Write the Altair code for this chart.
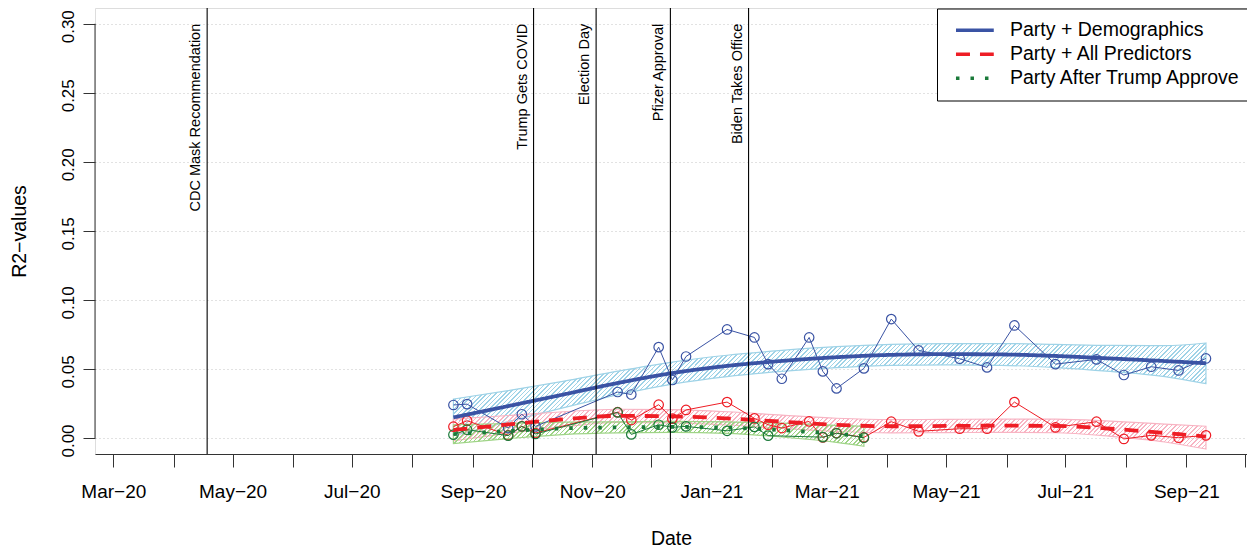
import altair as alt
import pandas as pd

# ---------------- data ----------------
SERIES = ["Party + Demographics", "Party + All Predictors", "Party After Trump Approve"]

POINT_DATES = ["2020-08-22", "2020-08-29", "2020-09-19", "2020-09-26", "2020-10-03",
               "2020-11-14", "2020-11-21", "2020-12-05", "2020-12-12", "2020-12-19",
               "2021-01-09", "2021-01-23", "2021-01-30", "2021-02-06", "2021-02-20",
               "2021-02-27", "2021-03-06", "2021-03-20", "2021-04-03", "2021-04-17",
               "2021-05-08", "2021-05-22", "2021-06-05", "2021-06-26", "2021-07-17",
               "2021-07-31", "2021-08-14", "2021-08-28", "2021-09-11"]

BLUE_R2 = [0.0239, 0.0245, 0.0072, 0.0172, 0.0084,
           0.0333, 0.0315, 0.0658, 0.0420, 0.0590,
           0.0786, 0.0728, 0.0535, 0.0429, 0.0728,
           0.0482, 0.0359, 0.0504, 0.0861, 0.0634,
           0.0574, 0.0511, 0.0815, 0.0535, 0.0569,
           0.0456, 0.0516, 0.0489, 0.0576]

RED_R2 = [0.0082, 0.0125, 0.0020, 0.0085, 0.0036,
          0.0187, 0.0130, 0.0241, 0.0140, 0.0203,
          0.0260, 0.0142, 0.0096, 0.0072, 0.0120,
          0.0004, 0.0036, 0.0004, 0.0118, 0.0048,
          0.0067, 0.0067, 0.0260, 0.0077, 0.0118,
          -0.0007, 0.0019, 0.0002, 0.0019]

GREEN_DATES = ["2020-08-22", "2020-08-29", "2020-09-19", "2020-09-26", "2020-10-03",
               "2020-11-14", "2020-11-21", "2020-12-05", "2020-12-12", "2020-12-19",
               "2021-01-09", "2021-01-23", "2021-01-30", "2021-02-27", "2021-03-06",
               "2021-03-20"]
GREEN_R2 = [0.0024, 0.0060, 0.0017, 0.0084, 0.0029,
            0.0185, 0.0026, 0.0096, 0.0077, 0.0084,
            0.0052, 0.0080, 0.0017, 0.0006, 0.0034,
            0.0002]

# smoothed fits with their confidence bands
FIT_DATES = ["2020-08-22", "2020-09-19", "2020-10-17", "2020-11-14", "2020-12-12",
             "2021-01-09", "2021-02-06", "2021-03-06", "2021-04-03", "2021-05-01",
             "2021-05-29", "2021-06-26", "2021-07-24", "2021-08-21", "2021-09-11"]
BLUE_FIT = [0.0149, 0.0231, 0.0314, 0.0398, 0.0470, 0.0522, 0.0558, 0.0585,
            0.0602, 0.0607, 0.0605, 0.0594, 0.0576, 0.0557, 0.0541]
BLUE_HI = [0.0282, 0.0343, 0.0410, 0.0484, 0.0550, 0.0599, 0.0634, 0.0661,
           0.0678, 0.0684, 0.0684, 0.0678, 0.0670, 0.0669, 0.0688]
BLUE_LO = [0.0016, 0.0119, 0.0218, 0.0312, 0.0390, 0.0445, 0.0482, 0.0509,
           0.0526, 0.0530, 0.0526, 0.0510, 0.0482, 0.0445, 0.0394]

RED_FIT = [0.0058, 0.0098, 0.0135, 0.0160, 0.0157, 0.0142, 0.0118, 0.0095,
           0.0085, 0.0087, 0.0089, 0.0087, 0.0067, 0.0036, 0.0010]
RED_HI = [0.0137, 0.0163, 0.0190, 0.0208, 0.0205, 0.0190, 0.0166, 0.0143,
          0.0133, 0.0135, 0.0137, 0.0136, 0.0122, 0.0101, 0.0085]
RED_LO = [-0.0021, 0.0033, 0.0080, 0.0112, 0.0109, 0.0094, 0.0070, 0.0047,
          0.0037, 0.0039, 0.0041, 0.0038, 0.0012, -0.0029, -0.0080]

GREEN_FIT_DATES = ["2020-08-22", "2020-09-19", "2020-10-17", "2020-11-14", "2020-12-12",
                   "2021-01-09", "2021-02-06", "2021-03-06", "2021-03-20"]
GREEN_FIT = [0.0028, 0.0050, 0.0070, 0.0077, 0.0080, 0.0075, 0.0057, 0.0030, 0.0012]
GREEN_HI = [0.0096, 0.0105, 0.0115, 0.0117, 0.0120, 0.0117, 0.0107, 0.0092, 0.0084]
GREEN_LO = [-0.0040, -0.0005, 0.0025, 0.0037, 0.0040, 0.0033, 0.0007, -0.0032, -0.0060]

EVENTS = ["CDC Mask Recommendation", "Trump Gets COVID", "Election Day",
          "Pfizer Approval", "Biden Takes Office"]
EVENT_DATES = ["2020-04-18", "2020-10-02", "2020-11-03", "2020-12-11", "2021-01-20"]
EVENT_LABEL_Y = [0.30, 0.30, 0.30, 0.30, 0.30]

Y_TICKS = [0.00, 0.05, 0.10, 0.15, 0.20, 0.25, 0.30]
TICK_MONTHS = ["2020-03", "2020-04", "2020-05", "2020-06", "2020-07", "2020-08",
               "2020-09", "2020-10", "2020-11", "2020-12", "2021-01", "2021-02",
               "2021-03", "2021-04", "2021-05", "2021-06", "2021-07", "2021-08",
               "2021-09", "2021-10"]

# ---------------- styling ----------------
LINE_COLORS = ["#3A53A4", "#EE1D25", "#1B7A3A"]
BAND_COLORS = ["#9FD3E7", "#F8B4C3", "#9FD487"]
DASHES = [[1, 0], [14, 10], [3.5, 11]]
FONT = "Liberation Sans"

PLOT_W, PLOT_H = 1152, 446
Y_DOMAIN = [-0.0116, 0.3114]
X_DAYS = 588.375  # days spanned by the x domain below
PX_PER_DAY = PLOT_W / X_DAYS
PX_PER_UNIT = PLOT_H / (Y_DOMAIN[1] - Y_DOMAIN[0])
HATCH_PERIOD = 4.4   # px between hatch lines (measured along x)
HATCH_WIDTH = 1.5

# ---------------- tables ----------------
fits = {
    SERIES[0]: pd.DataFrame({"date": FIT_DATES, "fit": BLUE_FIT, "hi": BLUE_HI, "lo": BLUE_LO}),
    SERIES[1]: pd.DataFrame({"date": FIT_DATES, "fit": RED_FIT, "hi": RED_HI, "lo": RED_LO}),
    SERIES[2]: pd.DataFrame({"date": GREEN_FIT_DATES, "fit": GREEN_FIT, "hi": GREEN_HI, "lo": GREEN_LO}),
}
for s, d in fits.items():
    d["series"] = s
fit_all = pd.concat(list(fits.values()), ignore_index=True)

points = {
    SERIES[0]: pd.DataFrame({"date": POINT_DATES, "r2": BLUE_R2}),
    SERIES[1]: pd.DataFrame({"date": POINT_DATES, "r2": RED_R2}),
    SERIES[2]: pd.DataFrame({"date": GREEN_DATES, "r2": GREEN_R2}),
}
events = pd.DataFrame({"event": EVENTS, "date": EVENT_DATES, "ypos": EVENT_LABEL_Y})
yline = pd.DataFrame({"y0": [Y_TICKS[0]], "y1": [Y_TICKS[-1]]})


def hatch(color, df):
    """Diagonal '/' hatching as a striped linear gradient over the band's bounding box."""
    d = pd.to_datetime(df["date"])
    w = (d.max() - d.min()).days * PX_PER_DAY
    h = (df["hi"].max() - df["lo"].min()) * PX_PER_UNIT
    r = h / w
    s = (1 + r) / (1 + r * r)
    total = w + h
    clear = "rgba(255,255,255,0)"
    stops = []
    k = 0
    while k * HATCH_PERIOD < total:
        o0 = k * HATCH_PERIOD / total
        o1 = min((k * HATCH_PERIOD + HATCH_WIDTH) / total, 1.0)
        stops += [alt.GradientStop(color=clear, offset=o0),
                  alt.GradientStop(color=color, offset=o0),
                  alt.GradientStop(color=color, offset=o1),
                  alt.GradientStop(color=clear, offset=o1)]
        k += 1
    return alt.LinearGradient(gradient="linear", stops=stops, x1=0, y1=0, x2=s, y2=s * r)


def dt(s):
    y, m = s.split("-")[:2]
    return alt.DateTime(year=int(y), month=int(m), date=1, utc=True)


x_scale = alt.Scale(type="utc",
                    domain=[alt.DateTime(year=2020, month=2, date=20, hours=15, utc=True),
                            alt.DateTime(year=2021, month=10, date=2, utc=True)])
x_axis = alt.Axis(values=[dt(m) for m in TICK_MONTHS],
                  labelExpr="utcmonth(datum.value) % 2 == 0 ? utcFormat(datum.value, '%b') + '\u2212' + utcFormat(datum.value, '%y') : ''",
                  title="Date", titleFontSize=19.5, titleFontWeight="normal",
                  titleX=576, titleY=90, titleBaseline="alphabetic", titleAlign="center",
                  tickSize=13, labelPadding=15, labelFontSize=19, labelColor="black",
                  labelOverlap=False, labelFlush=False, labelBound=False,
                  domainColor="#333333", tickColor="#333333", grid=False)
y_scale = alt.Scale(domain=Y_DOMAIN, nice=False, zero=False)
y_axis = alt.Axis(values=Y_TICKS, format=".2f", labelAngle=270, labelAlign="center",
                  labelBaseline="alphabetic", tickSize=12, labelPadding=10, labelOffset=2.5,
                  labelFontSize=17, labelColor="black", domain=False, tickColor="#333333",
                  grid=True, gridDash=[1, 3], gridColor="#c4c4c4",
                  title="R2\u2212values", titleFontSize=19.5, titleFontWeight="normal",
                  titleAngle=270, titleX=-70, titleY=223, titleBaseline="alphabetic",
                  titleAlign="center")

X = alt.X("date:T", scale=x_scale, axis=x_axis)


def Y(field):
    return alt.Y(field, type="quantitative", scale=y_scale, axis=y_axis)


layers = []
# confidence bands (hatched)
for s, band in zip(SERIES, BAND_COLORS):
    layers.append(
        alt.Chart(fits[s]).mark_area(interpolate="monotone", fill=hatch(band, fits[s]),
                                      stroke=band, strokeWidth=1.2)
        .encode(x=X, y=Y("hi"), y2=alt.Y2("lo"))
    )
# thin connecting lines and hollow circles
for s, c in zip(SERIES, LINE_COLORS):
    layers.append(
        alt.Chart(points[s]).mark_line(color=c, strokeWidth=1).encode(x=X, y=Y("r2"))
    )
for s, c in zip(SERIES, LINE_COLORS):
    layers.append(
        alt.Chart(points[s]).mark_point(shape="circle", filled=False, color=c, size=90,
                                        strokeWidth=1.2, opacity=1)
        .encode(x=X, y=Y("r2"))
    )

legend = alt.Legend(title=None, orient="none", legendX=842, legendY=0.5,
                    symbolType="M-0.37,0L4.67,0", symbolSize=225, symbolStrokeWidth=3.6,
                    labelFontSize=19.5, labelOffset=41.5, labelLimit=400, labelColor="black",
                    padding=12, rowPadding=3, strokeColor="black", fillColor="white",
                    symbolFillColor="transparent")

layers.append(
    alt.Chart(fit_all).mark_line(interpolate="monotone", strokeWidth=3.8, strokeCap="butt")
    .encode(x=X, y=Y("fit"),
            color=alt.Color("series:N", scale=alt.Scale(domain=SERIES, range=LINE_COLORS), legend=legend),
            strokeDash=alt.StrokeDash("series:N", scale=alt.Scale(domain=SERIES, range=DASHES), legend=legend))
)

# event lines and labels
layers.append(alt.Chart(events).mark_rule(color="black", strokeWidth=1.1).encode(x=X))
layers.append(
    alt.Chart(events).mark_text(angle=270, align="right", baseline="alphabetic", dy=-7,
                                fontSize=14.5, color="black", font=FONT)
    .encode(x=X, y=Y("ypos"), text="event:N")
)
# left axis line spanning only the tick range (R style)
layers.append(
    alt.Chart(yline).mark_rule(color="#333333", strokeWidth=1)
    .encode(x=alt.value(0), y=Y("y0"), y2=alt.Y2("y1"))
)

chart = (
    alt.layer(*layers)
    .properties(width=PLOT_W, height=PLOT_H, autosize=alt.AutoSizeParams(type="none"),
                padding={"left": 87, "top": 0, "right": 0, "bottom": 95})
    .configure_view(stroke=None)
    .configure(font=FONT, background="white")
)

chart.save("out.html", embed_options={"renderer": "svg", "actions": False})
